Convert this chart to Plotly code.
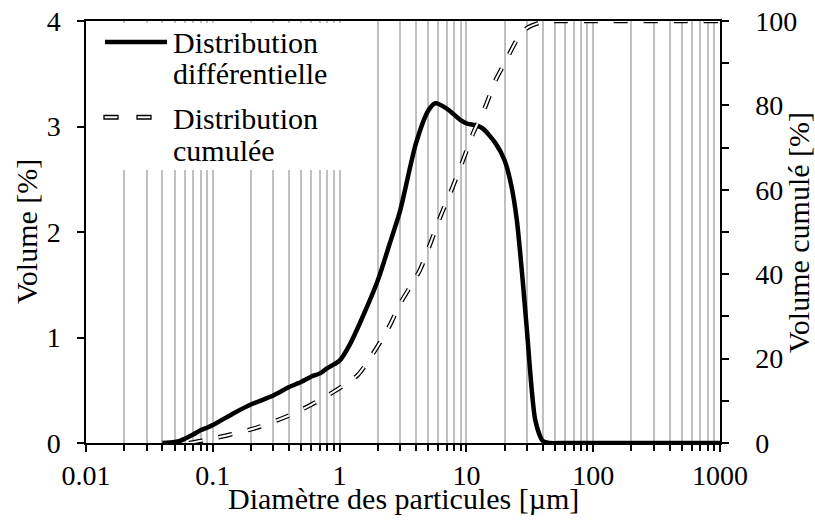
import plotly.graph_objects as go

# ---------------- data ----------------
diam_diff = [0.04, 0.05, 0.055, 0.06, 0.07, 0.08, 0.09, 0.1, 0.15, 0.2, 0.3, 0.4, 0.5,
             0.6, 0.7, 0.8, 0.9, 1.0, 1.2, 1.5, 2, 2.5, 3, 4, 5, 5.7, 7, 9, 10, 12,
             13.5, 17, 20, 22.7, 25, 27.8, 30, 35, 40, 45, 60, 100, 1000]
vol_diff = [0, 0.01, 0.02, 0.04, 0.08, 0.12, 0.145, 0.17, 0.29, 0.365, 0.45, 0.53, 0.58,
            0.63, 0.66, 0.71, 0.745, 0.78, 0.93, 1.18, 1.54, 1.9, 2.2, 2.84, 3.15, 3.22,
            3.17, 3.06, 3.03, 3.01, 2.98, 2.84, 2.68, 2.43, 2.11, 1.54, 1.07, 0.21, 0.02,
            0, 0, 0, 0]

diam_cum = [0.065, 0.08, 0.1, 0.133, 0.22, 0.37, 0.6, 0.95, 1.4, 2, 2.5, 3, 4.3, 5.2,
            6.3, 7.8, 9.4, 11.3, 14.1, 17, 20, 25, 30, 40, 50, 100, 1000]
vol_cum = [0, 0.5, 1.1, 1.9, 3.6, 6.1, 9.1, 12.6, 16.2, 23, 28, 33, 41, 47.3,
           54, 60.7, 67, 73.4, 79.7, 86, 90, 95.5, 98.3, 99.8, 100, 100, 100]

x_tickvals = [0.01, 0.1, 1, 10, 100, 1000]
x_ticktext = ["0.01", "0.1", "1", "10", "100", "1000"]
y_tickvals = [0, 1, 2, 3, 4]
y2_tickvals = [0, 20, 40, 60, 80, 100]

legend_labels = [["Distribution", "différentielle"], ["Distribution", "cumulée"]]
x_title = "Diamètre des particules [µm]"
y_title = "Volume [%]"
y2_title = "Volume cumulé [%]"

# --------------- layout helpers ---------------
W, H = 815, 520
L, R, T, B = 86, 95, 21, 77
PW, PH = W - L - R, H - T - B
FONT = "Liberation Serif"


def px(xp):
    return (xp - L) / PW


def py(yp):
    return (H - B - yp) / PH


minor_vals = [m * 10 ** e for e in range(-2, 3) for m in range(2, 10)]
GRID = "#c0c0c0"

fig = go.Figure()

fig.add_trace(go.Scatter(
    x=diam_diff, y=vol_diff, mode="lines",
    line=dict(color="black", width=4.5, shape="spline", smoothing=0.7),
    showlegend=False, hoverinfo="skip"))

dash = "14px,16px"
fig.add_trace(go.Scatter(
    x=diam_cum, y=vol_cum, yaxis="y2", mode="lines",
    line=dict(color="black", width=4.5, dash=dash, shape="spline", smoothing=0.7),
    showlegend=False, hoverinfo="skip"))
fig.add_trace(go.Scatter(
    x=diam_cum, y=vol_cum, yaxis="y2", mode="lines",
    line=dict(color="white", width=2, dash=dash, shape="spline", smoothing=0.7),
    showlegend=False, hoverinfo="skip"))

tickfont = dict(family=FONT, size=28, color="black")

fig.update_layout(
    template="none",
    width=W, height=H, autosize=False,
    margin=dict(l=L, r=R, t=T, b=B, pad=0),
    paper_bgcolor="white", plot_bgcolor="white",
    font=dict(family=FONT, color="black"),
    showlegend=False,
    xaxis=dict(
        type="log", range=[-2, 3], automargin=False,
        tickmode="array", tickvals=x_tickvals, ticktext=x_ticktext,
        ticks="outside", ticklen=7, tickwidth=1.5, tickcolor="black",
        showgrid=True, gridcolor=GRID, gridwidth=1.5,
        showline=True, linecolor="black", linewidth=1.5, mirror=True,
        zeroline=False, tickfont=tickfont, ticklabelstandoff=0,
        minor=dict(tickmode="array", tickvals=minor_vals, ticks="outside",
                   ticklen=6, tickwidth=1.5, tickcolor="black",
                   showgrid=True, gridcolor=GRID, gridwidth=1.5),
    ),
    yaxis=dict(
        range=[0, 4], tickmode="array", tickvals=y_tickvals, automargin=False,
        ticks="outside", ticklen=7, tickwidth=1.5, tickcolor="black",
        showgrid=False, zeroline=False,
        showline=True, linecolor="black", linewidth=1.5,
        tickfont=tickfont, ticklabelstandoff=11,
    ),
    yaxis2=dict(
        range=[0, 100], overlaying="y", side="right", automargin=False,
        tickmode="array", tickvals=y2_tickvals,
        ticks="outside", ticklen=7, tickwidth=1.5, tickcolor="black",
        showgrid=False, zeroline=False,
        showline=True, linecolor="black", linewidth=1.5,
        tickfont=tickfont, ticklabelstandoff=21,
        minor=dict(dtick=10, ticks="outside", ticklen=7, tickwidth=1.5, tickcolor="black"),
    ),
)

shapes = []
# white legend background covering grid lines
shapes.append(dict(type="rect", xref="paper", yref="paper",
                   x0=px(87.5), x1=px(362), y0=py(170), y1=py(23),
                   fillcolor="white", line=dict(width=0), layer="above"))
# solid sample
shapes.append(dict(type="line", xref="paper", yref="paper",
                   x0=px(105), x1=px(167), y0=py(42), y1=py(42),
                   line=dict(color="black", width=4.5), layer="above"))
# dashed sample (outlined dashes)
for x0 in (104, 137):
    shapes.append(dict(type="rect", xref="paper", yref="paper",
                       x0=px(x0), x1=px(x0 + 14), y0=py(119), y1=py(115.5),
                       fillcolor="white", line=dict(color="black", width=1.3), layer="above"))
fig.update_layout(shapes=shapes)

ann = []
leg_y = [[43, 73], [118, 150]]
for labels, ys in zip(legend_labels, leg_y):
    for lab, yy in zip(labels, ys):
        ann.append(dict(xref="paper", yref="paper", x=px(171), y=py(yy),
                        xanchor="left", yanchor="middle", text=lab, showarrow=False,
                        font=dict(family=FONT, size=30, color="black")))
ann.append(dict(xref="paper", yref="paper", x=0.5, y=py(498), xanchor="center",
                yanchor="middle", text=x_title, showarrow=False,
                font=dict(family=FONT, size=30, color="black")))
ann.append(dict(xref="paper", yref="paper", x=px(26), y=0.5, xanchor="center",
                yanchor="middle", text=y_title, textangle=-90, showarrow=False,
                font=dict(family=FONT, size=30, color="black")))
ann.append(dict(xref="paper", yref="paper", x=px(798), y=0.5, xanchor="center",
                yanchor="middle", text=y2_title, textangle=-90, showarrow=False,
                font=dict(family=FONT, size=30, color="black")))
fig.update_layout(annotations=ann)

fig.write_html("out.html", config={"displayModeBar": False},
               post_script="document.body.style.margin='0px';")
